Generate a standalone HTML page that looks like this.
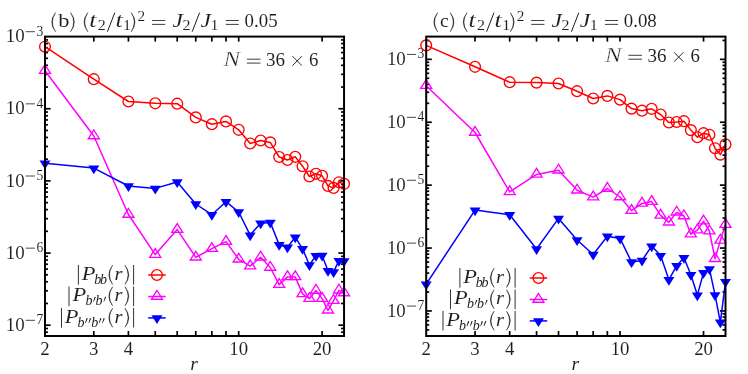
<!DOCTYPE html>
<html><head><meta charset="utf-8"><title>chart</title>
<style>html,body{margin:0;padding:0;background:#fff}svg{display:block;will-change:transform}text{font-family:"Liberation Serif",serif}</style></head>
<body>
<svg width="748" height="374" viewBox="0 0 748 374">
<rect width="748" height="374" fill="#fff"/>
<g font-family="'Liberation Serif', serif" fill="#1c1c1c">
<path d="M55.5 12.63Q47.9 22.18 55.5 31.72Q49.4 22.18 55.5 12.63Z" stroke="#1c1c1c" stroke-width="0.45" stroke-linejoin="round"/><text x="58.2" y="27.1" font-size="18.8" textLength="11.2" lengthAdjust="spacingAndGlyphs" stroke="#fff" stroke-width="0.06">b</text><path d="M70.6 12.63Q78.2 22.18 70.6 31.72Q76.7 22.18 70.6 12.63Z" stroke="#1c1c1c" stroke-width="0.45" stroke-linejoin="round"/><path d="M87.8 12.63Q80.2 22.18 87.8 31.72Q81.7 22.18 87.8 12.63Z" stroke="#1c1c1c" stroke-width="0.45" stroke-linejoin="round"/><text x="89.3" y="27.1" font-size="21.4" font-style="italic" textLength="7.2" lengthAdjust="spacingAndGlyphs" stroke="#fff" stroke-width="0.06">t</text><text x="97.7" y="30.4" font-size="13.6" textLength="8" lengthAdjust="spacingAndGlyphs" stroke="#fff" stroke-width="0.05">2</text><line x1="107.4" y1="31.72" x2="114.8" y2="12.63" stroke="#1c1c1c" stroke-width="1.0"/><text x="115.4" y="27.1" font-size="21.4" font-style="italic" textLength="7.2" lengthAdjust="spacingAndGlyphs" stroke="#fff" stroke-width="0.06">t</text><text x="123.1" y="30.4" font-size="13.6" textLength="8" lengthAdjust="spacingAndGlyphs" stroke="#fff" stroke-width="0.05">1</text><path d="M131.2 12.63Q138.8 22.18 131.2 31.72Q137.3 22.18 131.2 12.63Z" stroke="#1c1c1c" stroke-width="0.45" stroke-linejoin="round"/><text x="137.6" y="20.8" font-size="13.6" textLength="7.6" lengthAdjust="spacingAndGlyphs" stroke="#fff" stroke-width="0.05">2</text><line x1="152" y1="20.5" x2="165.2" y2="20.5" stroke="#1c1c1c" stroke-width="0.85"/><line x1="152" y1="24.4" x2="165.2" y2="24.4" stroke="#1c1c1c" stroke-width="0.85"/><text x="172.4" y="27.1" font-size="19.8" font-style="italic" textLength="10.4" lengthAdjust="spacingAndGlyphs" stroke="#fff" stroke-width="0.06">J</text><text x="182.4" y="30.4" font-size="13.6" textLength="8" lengthAdjust="spacingAndGlyphs" stroke="#fff" stroke-width="0.05">2</text><line x1="192.2" y1="31.72" x2="199.6" y2="12.63" stroke="#1c1c1c" stroke-width="1.0"/><text x="200.5" y="27.1" font-size="19.8" font-style="italic" textLength="10.4" lengthAdjust="spacingAndGlyphs" stroke="#fff" stroke-width="0.06">J</text><text x="210.5" y="30.4" font-size="13.6" textLength="8" lengthAdjust="spacingAndGlyphs" stroke="#fff" stroke-width="0.05">1</text><line x1="225.8" y1="20.5" x2="238.8" y2="20.5" stroke="#1c1c1c" stroke-width="0.85"/><line x1="225.8" y1="24.4" x2="238.8" y2="24.4" stroke="#1c1c1c" stroke-width="0.85"/><text x="244.6" y="27.1" font-size="18.8" textLength="33" lengthAdjust="spacingAndGlyphs" stroke="#fff" stroke-width="0.06">0.05</text>
<path d="M437.6 12.63Q430 22.18 437.6 31.72Q431.5 22.18 437.6 12.63Z" stroke="#1c1c1c" stroke-width="0.45" stroke-linejoin="round"/><text x="440" y="27.1" font-size="18.8" textLength="8.8" lengthAdjust="spacingAndGlyphs" stroke="#fff" stroke-width="0.06">c</text><path d="M450.2 12.63Q457.8 22.18 450.2 31.72Q456.3 22.18 450.2 12.63Z" stroke="#1c1c1c" stroke-width="0.45" stroke-linejoin="round"/><path d="M467 12.63Q459.4 22.18 467 31.72Q460.9 22.18 467 12.63Z" stroke="#1c1c1c" stroke-width="0.45" stroke-linejoin="round"/><text x="468.5" y="27.1" font-size="21.4" font-style="italic" textLength="7.2" lengthAdjust="spacingAndGlyphs" stroke="#fff" stroke-width="0.06">t</text><text x="476.9" y="30.4" font-size="13.6" textLength="8" lengthAdjust="spacingAndGlyphs" stroke="#fff" stroke-width="0.05">2</text><line x1="486.6" y1="31.72" x2="494" y2="12.63" stroke="#1c1c1c" stroke-width="1.0"/><text x="494.6" y="27.1" font-size="21.4" font-style="italic" textLength="7.2" lengthAdjust="spacingAndGlyphs" stroke="#fff" stroke-width="0.06">t</text><text x="502.3" y="30.4" font-size="13.6" textLength="8" lengthAdjust="spacingAndGlyphs" stroke="#fff" stroke-width="0.05">1</text><path d="M510.4 12.63Q518 22.18 510.4 31.72Q516.5 22.18 510.4 12.63Z" stroke="#1c1c1c" stroke-width="0.45" stroke-linejoin="round"/><text x="516.8" y="20.8" font-size="13.6" textLength="7.6" lengthAdjust="spacingAndGlyphs" stroke="#fff" stroke-width="0.05">2</text><line x1="531.2" y1="20.5" x2="544.4" y2="20.5" stroke="#1c1c1c" stroke-width="0.85"/><line x1="531.2" y1="24.4" x2="544.4" y2="24.4" stroke="#1c1c1c" stroke-width="0.85"/><text x="551.6" y="27.1" font-size="19.8" font-style="italic" textLength="10.4" lengthAdjust="spacingAndGlyphs" stroke="#fff" stroke-width="0.06">J</text><text x="561.6" y="30.4" font-size="13.6" textLength="8" lengthAdjust="spacingAndGlyphs" stroke="#fff" stroke-width="0.05">2</text><line x1="571.4" y1="31.72" x2="578.8" y2="12.63" stroke="#1c1c1c" stroke-width="1.0"/><text x="579.7" y="27.1" font-size="19.8" font-style="italic" textLength="10.4" lengthAdjust="spacingAndGlyphs" stroke="#fff" stroke-width="0.06">J</text><text x="589.7" y="30.4" font-size="13.6" textLength="8" lengthAdjust="spacingAndGlyphs" stroke="#fff" stroke-width="0.05">1</text><line x1="605" y1="20.5" x2="618" y2="20.5" stroke="#1c1c1c" stroke-width="0.85"/><line x1="605" y1="24.4" x2="618" y2="24.4" stroke="#1c1c1c" stroke-width="0.85"/><text x="623.8" y="27.1" font-size="18.8" textLength="33" lengthAdjust="spacingAndGlyphs" stroke="#fff" stroke-width="0.06">0.08</text>
<text x="223.6" y="65.8" font-size="20.2" font-style="italic" textLength="16.6" lengthAdjust="spacingAndGlyphs" stroke="#fff" stroke-width="0.3">N</text><line x1="246.9" y1="59.2" x2="260.5" y2="59.2" stroke="#1c1c1c" stroke-width="0.85"/><line x1="246.9" y1="63.1" x2="260.5" y2="63.1" stroke="#1c1c1c" stroke-width="0.85"/><text x="266" y="65.8" font-size="18.8" textLength="19" lengthAdjust="spacingAndGlyphs" stroke="#fff" stroke-width="0.06">36</text><line x1="292.5" y1="56.2" x2="301.9" y2="65.6" stroke="#1c1c1c" stroke-width="0.95"/><line x1="292.5" y1="65.6" x2="301.9" y2="56.2" stroke="#1c1c1c" stroke-width="0.95"/><text x="309" y="65.8" font-size="18.8" stroke="#fff" stroke-width="0.06">6</text>
<text x="605.1" y="61.9" font-size="20.2" font-style="italic" textLength="16.6" lengthAdjust="spacingAndGlyphs" stroke="#fff" stroke-width="0.3">N</text><line x1="628.4" y1="55.3" x2="642" y2="55.3" stroke="#1c1c1c" stroke-width="0.85"/><line x1="628.4" y1="59.2" x2="642" y2="59.2" stroke="#1c1c1c" stroke-width="0.85"/><text x="647.5" y="61.9" font-size="18.8" textLength="19" lengthAdjust="spacingAndGlyphs" stroke="#fff" stroke-width="0.06">36</text><line x1="674" y1="52.3" x2="683.4" y2="61.7" stroke="#1c1c1c" stroke-width="0.95"/><line x1="674" y1="61.7" x2="683.4" y2="52.3" stroke="#1c1c1c" stroke-width="0.95"/><text x="690.5" y="61.9" font-size="18.8" stroke="#fff" stroke-width="0.06">6</text>
<text x="5.7" y="42.2" font-size="18.8" textLength="18.9" lengthAdjust="spacingAndGlyphs" stroke="#fff" stroke-width="0.06">10</text><line x1="25.7" y1="31.7" x2="34.9" y2="31.7" stroke="#1c1c1c" stroke-width="0.8"/><text x="36.4" y="35.5" font-size="13.6" stroke="#fff" stroke-width="0.05">3</text>
<text x="386.9" y="64.95" font-size="18.8" textLength="18.9" lengthAdjust="spacingAndGlyphs" stroke="#fff" stroke-width="0.06">10</text><line x1="406.9" y1="54.45" x2="416.1" y2="54.45" stroke="#1c1c1c" stroke-width="0.8"/><text x="417.6" y="58.25" font-size="13.6" stroke="#fff" stroke-width="0.05">3</text>
<text x="5.7" y="114.35" font-size="18.8" textLength="18.9" lengthAdjust="spacingAndGlyphs" stroke="#fff" stroke-width="0.06">10</text><line x1="25.7" y1="103.85" x2="34.9" y2="103.85" stroke="#1c1c1c" stroke-width="0.8"/><text x="36.4" y="107.65" font-size="13.6" stroke="#fff" stroke-width="0.05">4</text>
<text x="386.9" y="127.85" font-size="18.8" textLength="18.9" lengthAdjust="spacingAndGlyphs" stroke="#fff" stroke-width="0.06">10</text><line x1="406.9" y1="117.35" x2="416.1" y2="117.35" stroke="#1c1c1c" stroke-width="0.8"/><text x="417.6" y="121.15" font-size="13.6" stroke="#fff" stroke-width="0.05">4</text>
<text x="5.7" y="186.5" font-size="18.8" textLength="18.9" lengthAdjust="spacingAndGlyphs" stroke="#fff" stroke-width="0.06">10</text><line x1="25.7" y1="176" x2="34.9" y2="176" stroke="#1c1c1c" stroke-width="0.8"/><text x="36.4" y="179.8" font-size="13.6" stroke="#fff" stroke-width="0.05">5</text>
<text x="386.9" y="190.75" font-size="18.8" textLength="18.9" lengthAdjust="spacingAndGlyphs" stroke="#fff" stroke-width="0.06">10</text><line x1="406.9" y1="180.25" x2="416.1" y2="180.25" stroke="#1c1c1c" stroke-width="0.8"/><text x="417.6" y="184.05" font-size="13.6" stroke="#fff" stroke-width="0.05">5</text>
<text x="5.7" y="258.65" font-size="18.8" textLength="18.9" lengthAdjust="spacingAndGlyphs" stroke="#fff" stroke-width="0.06">10</text><line x1="25.7" y1="248.15" x2="34.9" y2="248.15" stroke="#1c1c1c" stroke-width="0.8"/><text x="36.4" y="251.95" font-size="13.6" stroke="#fff" stroke-width="0.05">6</text>
<text x="386.9" y="253.65" font-size="18.8" textLength="18.9" lengthAdjust="spacingAndGlyphs" stroke="#fff" stroke-width="0.06">10</text><line x1="406.9" y1="243.15" x2="416.1" y2="243.15" stroke="#1c1c1c" stroke-width="0.8"/><text x="417.6" y="246.95" font-size="13.6" stroke="#fff" stroke-width="0.05">6</text>
<text x="5.7" y="330.8" font-size="18.8" textLength="18.9" lengthAdjust="spacingAndGlyphs" stroke="#fff" stroke-width="0.06">10</text><line x1="25.7" y1="320.3" x2="34.9" y2="320.3" stroke="#1c1c1c" stroke-width="0.8"/><text x="36.4" y="324.1" font-size="13.6" stroke="#fff" stroke-width="0.05">7</text>
<text x="386.9" y="316.55" font-size="18.8" textLength="18.9" lengthAdjust="spacingAndGlyphs" stroke="#fff" stroke-width="0.06">10</text><line x1="406.9" y1="306.05" x2="416.1" y2="306.05" stroke="#1c1c1c" stroke-width="0.8"/><text x="417.6" y="309.85" font-size="13.6" stroke="#fff" stroke-width="0.05">7</text>
<text x="45" y="355" font-size="18.8" text-anchor="middle" stroke="#fff" stroke-width="0.06">2</text><text x="93.8" y="355" font-size="18.8" text-anchor="middle" stroke="#fff" stroke-width="0.06">3</text><text x="128.42" y="355" font-size="18.8" text-anchor="middle" stroke="#fff" stroke-width="0.06">4</text><text x="238.69" y="355" font-size="18.8" text-anchor="middle" stroke="#fff" stroke-width="0.06">10</text><text x="322.11" y="355" font-size="18.8" text-anchor="middle" stroke="#fff" stroke-width="0.06">20</text><text x="190.22" y="369.8" font-size="19.8" font-style="italic" stroke="#fff" stroke-width="0.06">r</text>
<text x="426.2" y="355" font-size="18.8" text-anchor="middle" stroke="#fff" stroke-width="0.06">2</text><text x="475.04" y="355" font-size="18.8" text-anchor="middle" stroke="#fff" stroke-width="0.06">3</text><text x="509.69" y="355" font-size="18.8" text-anchor="middle" stroke="#fff" stroke-width="0.06">4</text><text x="620.05" y="355" font-size="18.8" text-anchor="middle" stroke="#fff" stroke-width="0.06">10</text><text x="703.54" y="355" font-size="18.8" text-anchor="middle" stroke="#fff" stroke-width="0.06">20</text><text x="571.55" y="369.8" font-size="19.8" font-style="italic" stroke="#fff" stroke-width="0.06">r</text>
<line x1="133.6" y1="264.98" x2="133.6" y2="284.68" stroke="#1c1c1c" stroke-width="0.9"/>
<path d="M125 265.28Q132.6 274.83 125 284.38Q131.1 274.83 125 265.28Z" stroke="#1c1c1c" stroke-width="0.45" stroke-linejoin="round"/>
<text x="114.6" y="279.75" font-size="19.8" font-style="italic" textLength="8" lengthAdjust="spacingAndGlyphs" stroke="#fff" stroke-width="0.06">r</text>
<path d="M112.6 265.28Q105 274.83 112.6 284.38Q106.5 274.83 112.6 265.28Z" stroke="#1c1c1c" stroke-width="0.45" stroke-linejoin="round"/>
<text x="94.3" y="283.65" font-size="15.1" font-style="italic" textLength="7" lengthAdjust="spacingAndGlyphs" stroke="#fff" stroke-width="0.0">b</text>
<text x="100.1" y="283.65" font-size="15.1" font-style="italic" textLength="7" lengthAdjust="spacingAndGlyphs" stroke="#fff" stroke-width="0.0">b</text>
<text x="81.8" y="279.75" font-size="19.8" font-style="italic" textLength="13.7" lengthAdjust="spacingAndGlyphs" stroke="#fff" stroke-width="0.06">P</text>
<line x1="78.4" y1="264.98" x2="78.4" y2="284.68" stroke="#1c1c1c" stroke-width="0.9"/>
<line x1="148.2" y1="275" x2="165.7" y2="275" stroke="#ff0000" stroke-width="1.5"/>
<circle cx="156.95" cy="275" r="5.4" fill="none" stroke="#ff0000" stroke-width="1.35"/>
<line x1="133.6" y1="286.48" x2="133.6" y2="306.18" stroke="#1c1c1c" stroke-width="0.9"/>
<path d="M125 286.78Q132.6 296.33 125 305.88Q131.1 296.33 125 286.78Z" stroke="#1c1c1c" stroke-width="0.45" stroke-linejoin="round"/>
<text x="114.6" y="301.25" font-size="19.8" font-style="italic" textLength="8" lengthAdjust="spacingAndGlyphs" stroke="#fff" stroke-width="0.06">r</text>
<path d="M112.6 286.78Q105 296.33 112.6 305.88Q106.5 296.33 112.6 286.78Z" stroke="#1c1c1c" stroke-width="0.45" stroke-linejoin="round"/>
<text x="85.6" y="305.15" font-size="15.1" font-style="italic" textLength="7" lengthAdjust="spacingAndGlyphs" stroke="#fff" stroke-width="0.0">b</text>
<path d="M94.7 296.65L95.9 297.05L93.7 301.75L93.2 301.55Z" stroke="none"/>
<text x="95.5" y="305.15" font-size="15.1" font-style="italic" textLength="7" lengthAdjust="spacingAndGlyphs" stroke="#fff" stroke-width="0.0">b</text>
<path d="M105 296.65L106.2 297.05L104 301.75L103.5 301.55Z" stroke="none"/>
<text x="72.4" y="301.25" font-size="19.8" font-style="italic" textLength="13.7" lengthAdjust="spacingAndGlyphs" stroke="#fff" stroke-width="0.06">P</text>
<line x1="69" y1="286.48" x2="69" y2="306.18" stroke="#1c1c1c" stroke-width="0.9"/>
<line x1="148.2" y1="296.5" x2="165.7" y2="296.5" stroke="#ff00ff" stroke-width="1.5"/>
<path d="M156.95 290.45L151.45 299.2L162.45 299.2Z" fill="none" stroke="#ff00ff" stroke-width="1.35" stroke-linejoin="miter"/>
<line x1="133.6" y1="307.88" x2="133.6" y2="327.57" stroke="#1c1c1c" stroke-width="0.9"/>
<path d="M125 308.18Q132.6 317.73 125 327.27Q131.1 317.73 125 308.18Z" stroke="#1c1c1c" stroke-width="0.45" stroke-linejoin="round"/>
<text x="114.6" y="322.65" font-size="19.8" font-style="italic" textLength="8" lengthAdjust="spacingAndGlyphs" stroke="#fff" stroke-width="0.06">r</text>
<path d="M112.6 308.18Q105 317.73 112.6 327.27Q106.5 317.73 112.6 308.18Z" stroke="#1c1c1c" stroke-width="0.45" stroke-linejoin="round"/>
<text x="77.4" y="326.55" font-size="15.1" font-style="italic" textLength="7" lengthAdjust="spacingAndGlyphs" stroke="#fff" stroke-width="0.0">b</text>
<path d="M86.6 318.05L87.8 318.45L85.6 323.15L85.1 322.95Z" stroke="none"/>
<path d="M90 318.05L91.2 318.45L89 323.15L88.5 322.95Z" stroke="none"/>
<text x="91.3" y="326.55" font-size="15.1" font-style="italic" textLength="7" lengthAdjust="spacingAndGlyphs" stroke="#fff" stroke-width="0.0">b</text>
<path d="M100.3 318.05L101.5 318.45L99.3 323.15L98.8 322.95Z" stroke="none"/>
<path d="M103.6 318.05L104.8 318.45L102.6 323.15L102.1 322.95Z" stroke="none"/>
<text x="64.8" y="322.65" font-size="19.8" font-style="italic" textLength="13.7" lengthAdjust="spacingAndGlyphs" stroke="#fff" stroke-width="0.06">P</text>
<line x1="61.5" y1="307.88" x2="61.5" y2="327.57" stroke="#1c1c1c" stroke-width="0.9"/>
<line x1="148.2" y1="317.9" x2="165.7" y2="317.9" stroke="#0000ff" stroke-width="1.5"/>
<path d="M156.95 323.95L151.45 315.2L162.45 315.2Z" fill="#0000ff" stroke="none"/>
<line x1="515.1" y1="267.98" x2="515.1" y2="287.68" stroke="#1c1c1c" stroke-width="0.9"/>
<path d="M506.5 268.28Q514.1 277.83 506.5 287.38Q512.6 277.83 506.5 268.28Z" stroke="#1c1c1c" stroke-width="0.45" stroke-linejoin="round"/>
<text x="496.1" y="282.75" font-size="19.8" font-style="italic" textLength="8" lengthAdjust="spacingAndGlyphs" stroke="#fff" stroke-width="0.06">r</text>
<path d="M494.1 268.28Q486.5 277.83 494.1 287.38Q488 277.83 494.1 268.28Z" stroke="#1c1c1c" stroke-width="0.45" stroke-linejoin="round"/>
<text x="475.8" y="286.65" font-size="15.1" font-style="italic" textLength="7" lengthAdjust="spacingAndGlyphs" stroke="#fff" stroke-width="0.0">b</text>
<text x="481.6" y="286.65" font-size="15.1" font-style="italic" textLength="7" lengthAdjust="spacingAndGlyphs" stroke="#fff" stroke-width="0.0">b</text>
<text x="463.3" y="282.75" font-size="19.8" font-style="italic" textLength="13.7" lengthAdjust="spacingAndGlyphs" stroke="#fff" stroke-width="0.06">P</text>
<line x1="459.9" y1="267.98" x2="459.9" y2="287.68" stroke="#1c1c1c" stroke-width="0.9"/>
<line x1="529.7" y1="278" x2="547.2" y2="278" stroke="#ff0000" stroke-width="1.5"/>
<circle cx="538.45" cy="278" r="5.4" fill="none" stroke="#ff0000" stroke-width="1.35"/>
<line x1="515.1" y1="289.48" x2="515.1" y2="309.18" stroke="#1c1c1c" stroke-width="0.9"/>
<path d="M506.5 289.78Q514.1 299.33 506.5 308.88Q512.6 299.33 506.5 289.78Z" stroke="#1c1c1c" stroke-width="0.45" stroke-linejoin="round"/>
<text x="496.1" y="304.25" font-size="19.8" font-style="italic" textLength="8" lengthAdjust="spacingAndGlyphs" stroke="#fff" stroke-width="0.06">r</text>
<path d="M494.1 289.78Q486.5 299.33 494.1 308.88Q488 299.33 494.1 289.78Z" stroke="#1c1c1c" stroke-width="0.45" stroke-linejoin="round"/>
<text x="467.1" y="308.15" font-size="15.1" font-style="italic" textLength="7" lengthAdjust="spacingAndGlyphs" stroke="#fff" stroke-width="0.0">b</text>
<path d="M476.2 299.65L477.4 300.05L475.2 304.75L474.7 304.55Z" stroke="none"/>
<text x="477" y="308.15" font-size="15.1" font-style="italic" textLength="7" lengthAdjust="spacingAndGlyphs" stroke="#fff" stroke-width="0.0">b</text>
<path d="M486.5 299.65L487.7 300.05L485.5 304.75L485 304.55Z" stroke="none"/>
<text x="453.9" y="304.25" font-size="19.8" font-style="italic" textLength="13.7" lengthAdjust="spacingAndGlyphs" stroke="#fff" stroke-width="0.06">P</text>
<line x1="450.5" y1="289.48" x2="450.5" y2="309.18" stroke="#1c1c1c" stroke-width="0.9"/>
<line x1="529.7" y1="299.5" x2="547.2" y2="299.5" stroke="#ff00ff" stroke-width="1.5"/>
<path d="M538.45 293.45L532.95 302.2L543.95 302.2Z" fill="none" stroke="#ff00ff" stroke-width="1.35" stroke-linejoin="miter"/>
<line x1="515.1" y1="310.88" x2="515.1" y2="330.57" stroke="#1c1c1c" stroke-width="0.9"/>
<path d="M506.5 311.18Q514.1 320.73 506.5 330.27Q512.6 320.73 506.5 311.18Z" stroke="#1c1c1c" stroke-width="0.45" stroke-linejoin="round"/>
<text x="496.1" y="325.65" font-size="19.8" font-style="italic" textLength="8" lengthAdjust="spacingAndGlyphs" stroke="#fff" stroke-width="0.06">r</text>
<path d="M494.1 311.18Q486.5 320.73 494.1 330.27Q488 320.73 494.1 311.18Z" stroke="#1c1c1c" stroke-width="0.45" stroke-linejoin="round"/>
<text x="458.9" y="329.55" font-size="15.1" font-style="italic" textLength="7" lengthAdjust="spacingAndGlyphs" stroke="#fff" stroke-width="0.0">b</text>
<path d="M468.1 321.05L469.3 321.45L467.1 326.15L466.6 325.95Z" stroke="none"/>
<path d="M471.5 321.05L472.7 321.45L470.5 326.15L470 325.95Z" stroke="none"/>
<text x="472.8" y="329.55" font-size="15.1" font-style="italic" textLength="7" lengthAdjust="spacingAndGlyphs" stroke="#fff" stroke-width="0.0">b</text>
<path d="M481.8 321.05L483 321.45L480.8 326.15L480.3 325.95Z" stroke="none"/>
<path d="M485.1 321.05L486.3 321.45L484.1 326.15L483.6 325.95Z" stroke="none"/>
<text x="446.3" y="325.65" font-size="19.8" font-style="italic" textLength="13.7" lengthAdjust="spacingAndGlyphs" stroke="#fff" stroke-width="0.06">P</text>
<line x1="443" y1="310.88" x2="443" y2="330.57" stroke="#1c1c1c" stroke-width="0.9"/>
<line x1="529.7" y1="320.9" x2="547.2" y2="320.9" stroke="#0000ff" stroke-width="1.5"/>
<path d="M538.45 326.95L532.95 318.2L543.95 318.2Z" fill="#0000ff" stroke="none"/>
</g>
<line x1="93.8" y1="336" x2="93.8" y2="331" stroke="#000" stroke-width="1.7"/>
<line x1="93.8" y1="36.6" x2="93.8" y2="41.6" stroke="#000" stroke-width="1.7"/>
<line x1="128.42" y1="336" x2="128.42" y2="331" stroke="#000" stroke-width="1.7"/>
<line x1="128.42" y1="36.6" x2="128.42" y2="41.6" stroke="#000" stroke-width="1.7"/>
<line x1="155.27" y1="336" x2="155.27" y2="331" stroke="#000" stroke-width="1.7"/>
<line x1="155.27" y1="36.6" x2="155.27" y2="41.6" stroke="#000" stroke-width="1.7"/>
<line x1="177.21" y1="336" x2="177.21" y2="331" stroke="#000" stroke-width="1.7"/>
<line x1="177.21" y1="36.6" x2="177.21" y2="41.6" stroke="#000" stroke-width="1.7"/>
<line x1="195.77" y1="336" x2="195.77" y2="331" stroke="#000" stroke-width="1.7"/>
<line x1="195.77" y1="36.6" x2="195.77" y2="41.6" stroke="#000" stroke-width="1.7"/>
<line x1="211.84" y1="336" x2="211.84" y2="331" stroke="#000" stroke-width="1.7"/>
<line x1="211.84" y1="36.6" x2="211.84" y2="41.6" stroke="#000" stroke-width="1.7"/>
<line x1="226.01" y1="336" x2="226.01" y2="331" stroke="#000" stroke-width="1.7"/>
<line x1="226.01" y1="36.6" x2="226.01" y2="41.6" stroke="#000" stroke-width="1.7"/>
<line x1="238.69" y1="336" x2="238.69" y2="331" stroke="#000" stroke-width="1.7"/>
<line x1="238.69" y1="36.6" x2="238.69" y2="41.6" stroke="#000" stroke-width="1.7"/>
<line x1="322.11" y1="336" x2="322.11" y2="331" stroke="#000" stroke-width="1.7"/>
<line x1="322.11" y1="36.6" x2="322.11" y2="41.6" stroke="#000" stroke-width="1.7"/>
<line x1="45" y1="332.19" x2="48" y2="332.19" stroke="#000" stroke-width="1.7"/>
<line x1="344.05" y1="332.19" x2="341.05" y2="332.19" stroke="#000" stroke-width="1.7"/>
<line x1="45" y1="328.5" x2="48" y2="328.5" stroke="#000" stroke-width="1.7"/>
<line x1="344.05" y1="328.5" x2="341.05" y2="328.5" stroke="#000" stroke-width="1.7"/>
<line x1="45" y1="325.2" x2="50.6" y2="325.2" stroke="#000" stroke-width="1.7"/>
<line x1="344.05" y1="325.2" x2="338.45" y2="325.2" stroke="#000" stroke-width="1.7"/>
<line x1="45" y1="303.48" x2="48" y2="303.48" stroke="#000" stroke-width="1.7"/>
<line x1="344.05" y1="303.48" x2="341.05" y2="303.48" stroke="#000" stroke-width="1.7"/>
<line x1="45" y1="290.78" x2="48" y2="290.78" stroke="#000" stroke-width="1.7"/>
<line x1="344.05" y1="290.78" x2="341.05" y2="290.78" stroke="#000" stroke-width="1.7"/>
<line x1="45" y1="281.76" x2="48" y2="281.76" stroke="#000" stroke-width="1.7"/>
<line x1="344.05" y1="281.76" x2="341.05" y2="281.76" stroke="#000" stroke-width="1.7"/>
<line x1="45" y1="274.77" x2="48" y2="274.77" stroke="#000" stroke-width="1.7"/>
<line x1="344.05" y1="274.77" x2="341.05" y2="274.77" stroke="#000" stroke-width="1.7"/>
<line x1="45" y1="269.06" x2="48" y2="269.06" stroke="#000" stroke-width="1.7"/>
<line x1="344.05" y1="269.06" x2="341.05" y2="269.06" stroke="#000" stroke-width="1.7"/>
<line x1="45" y1="264.23" x2="48" y2="264.23" stroke="#000" stroke-width="1.7"/>
<line x1="344.05" y1="264.23" x2="341.05" y2="264.23" stroke="#000" stroke-width="1.7"/>
<line x1="45" y1="260.04" x2="48" y2="260.04" stroke="#000" stroke-width="1.7"/>
<line x1="344.05" y1="260.04" x2="341.05" y2="260.04" stroke="#000" stroke-width="1.7"/>
<line x1="45" y1="256.35" x2="48" y2="256.35" stroke="#000" stroke-width="1.7"/>
<line x1="344.05" y1="256.35" x2="341.05" y2="256.35" stroke="#000" stroke-width="1.7"/>
<line x1="45" y1="253.05" x2="50.6" y2="253.05" stroke="#000" stroke-width="1.7"/>
<line x1="344.05" y1="253.05" x2="338.45" y2="253.05" stroke="#000" stroke-width="1.7"/>
<line x1="45" y1="231.33" x2="48" y2="231.33" stroke="#000" stroke-width="1.7"/>
<line x1="344.05" y1="231.33" x2="341.05" y2="231.33" stroke="#000" stroke-width="1.7"/>
<line x1="45" y1="218.63" x2="48" y2="218.63" stroke="#000" stroke-width="1.7"/>
<line x1="344.05" y1="218.63" x2="341.05" y2="218.63" stroke="#000" stroke-width="1.7"/>
<line x1="45" y1="209.61" x2="48" y2="209.61" stroke="#000" stroke-width="1.7"/>
<line x1="344.05" y1="209.61" x2="341.05" y2="209.61" stroke="#000" stroke-width="1.7"/>
<line x1="45" y1="202.62" x2="48" y2="202.62" stroke="#000" stroke-width="1.7"/>
<line x1="344.05" y1="202.62" x2="341.05" y2="202.62" stroke="#000" stroke-width="1.7"/>
<line x1="45" y1="196.91" x2="48" y2="196.91" stroke="#000" stroke-width="1.7"/>
<line x1="344.05" y1="196.91" x2="341.05" y2="196.91" stroke="#000" stroke-width="1.7"/>
<line x1="45" y1="192.08" x2="48" y2="192.08" stroke="#000" stroke-width="1.7"/>
<line x1="344.05" y1="192.08" x2="341.05" y2="192.08" stroke="#000" stroke-width="1.7"/>
<line x1="45" y1="187.89" x2="48" y2="187.89" stroke="#000" stroke-width="1.7"/>
<line x1="344.05" y1="187.89" x2="341.05" y2="187.89" stroke="#000" stroke-width="1.7"/>
<line x1="45" y1="184.2" x2="48" y2="184.2" stroke="#000" stroke-width="1.7"/>
<line x1="344.05" y1="184.2" x2="341.05" y2="184.2" stroke="#000" stroke-width="1.7"/>
<line x1="45" y1="180.9" x2="50.6" y2="180.9" stroke="#000" stroke-width="1.7"/>
<line x1="344.05" y1="180.9" x2="338.45" y2="180.9" stroke="#000" stroke-width="1.7"/>
<line x1="45" y1="159.18" x2="48" y2="159.18" stroke="#000" stroke-width="1.7"/>
<line x1="344.05" y1="159.18" x2="341.05" y2="159.18" stroke="#000" stroke-width="1.7"/>
<line x1="45" y1="146.48" x2="48" y2="146.48" stroke="#000" stroke-width="1.7"/>
<line x1="344.05" y1="146.48" x2="341.05" y2="146.48" stroke="#000" stroke-width="1.7"/>
<line x1="45" y1="137.46" x2="48" y2="137.46" stroke="#000" stroke-width="1.7"/>
<line x1="344.05" y1="137.46" x2="341.05" y2="137.46" stroke="#000" stroke-width="1.7"/>
<line x1="45" y1="130.47" x2="48" y2="130.47" stroke="#000" stroke-width="1.7"/>
<line x1="344.05" y1="130.47" x2="341.05" y2="130.47" stroke="#000" stroke-width="1.7"/>
<line x1="45" y1="124.76" x2="48" y2="124.76" stroke="#000" stroke-width="1.7"/>
<line x1="344.05" y1="124.76" x2="341.05" y2="124.76" stroke="#000" stroke-width="1.7"/>
<line x1="45" y1="119.93" x2="48" y2="119.93" stroke="#000" stroke-width="1.7"/>
<line x1="344.05" y1="119.93" x2="341.05" y2="119.93" stroke="#000" stroke-width="1.7"/>
<line x1="45" y1="115.74" x2="48" y2="115.74" stroke="#000" stroke-width="1.7"/>
<line x1="344.05" y1="115.74" x2="341.05" y2="115.74" stroke="#000" stroke-width="1.7"/>
<line x1="45" y1="112.05" x2="48" y2="112.05" stroke="#000" stroke-width="1.7"/>
<line x1="344.05" y1="112.05" x2="341.05" y2="112.05" stroke="#000" stroke-width="1.7"/>
<line x1="45" y1="108.75" x2="50.6" y2="108.75" stroke="#000" stroke-width="1.7"/>
<line x1="344.05" y1="108.75" x2="338.45" y2="108.75" stroke="#000" stroke-width="1.7"/>
<line x1="45" y1="87.03" x2="48" y2="87.03" stroke="#000" stroke-width="1.7"/>
<line x1="344.05" y1="87.03" x2="341.05" y2="87.03" stroke="#000" stroke-width="1.7"/>
<line x1="45" y1="74.33" x2="48" y2="74.33" stroke="#000" stroke-width="1.7"/>
<line x1="344.05" y1="74.33" x2="341.05" y2="74.33" stroke="#000" stroke-width="1.7"/>
<line x1="45" y1="65.31" x2="48" y2="65.31" stroke="#000" stroke-width="1.7"/>
<line x1="344.05" y1="65.31" x2="341.05" y2="65.31" stroke="#000" stroke-width="1.7"/>
<line x1="45" y1="58.32" x2="48" y2="58.32" stroke="#000" stroke-width="1.7"/>
<line x1="344.05" y1="58.32" x2="341.05" y2="58.32" stroke="#000" stroke-width="1.7"/>
<line x1="45" y1="52.61" x2="48" y2="52.61" stroke="#000" stroke-width="1.7"/>
<line x1="344.05" y1="52.61" x2="341.05" y2="52.61" stroke="#000" stroke-width="1.7"/>
<line x1="45" y1="47.78" x2="48" y2="47.78" stroke="#000" stroke-width="1.7"/>
<line x1="344.05" y1="47.78" x2="341.05" y2="47.78" stroke="#000" stroke-width="1.7"/>
<line x1="45" y1="43.59" x2="48" y2="43.59" stroke="#000" stroke-width="1.7"/>
<line x1="344.05" y1="43.59" x2="341.05" y2="43.59" stroke="#000" stroke-width="1.7"/>
<line x1="45" y1="39.9" x2="48" y2="39.9" stroke="#000" stroke-width="1.7"/>
<line x1="344.05" y1="39.9" x2="341.05" y2="39.9" stroke="#000" stroke-width="1.7"/>
<line x1="475.04" y1="336" x2="475.04" y2="331" stroke="#000" stroke-width="1.7"/>
<line x1="475.04" y1="36.6" x2="475.04" y2="41.6" stroke="#000" stroke-width="1.7"/>
<line x1="509.69" y1="336" x2="509.69" y2="331" stroke="#000" stroke-width="1.7"/>
<line x1="509.69" y1="36.6" x2="509.69" y2="41.6" stroke="#000" stroke-width="1.7"/>
<line x1="536.56" y1="336" x2="536.56" y2="331" stroke="#000" stroke-width="1.7"/>
<line x1="536.56" y1="36.6" x2="536.56" y2="41.6" stroke="#000" stroke-width="1.7"/>
<line x1="558.52" y1="336" x2="558.52" y2="331" stroke="#000" stroke-width="1.7"/>
<line x1="558.52" y1="36.6" x2="558.52" y2="41.6" stroke="#000" stroke-width="1.7"/>
<line x1="577.09" y1="336" x2="577.09" y2="331" stroke="#000" stroke-width="1.7"/>
<line x1="577.09" y1="36.6" x2="577.09" y2="41.6" stroke="#000" stroke-width="1.7"/>
<line x1="593.18" y1="336" x2="593.18" y2="331" stroke="#000" stroke-width="1.7"/>
<line x1="593.18" y1="36.6" x2="593.18" y2="41.6" stroke="#000" stroke-width="1.7"/>
<line x1="607.36" y1="336" x2="607.36" y2="331" stroke="#000" stroke-width="1.7"/>
<line x1="607.36" y1="36.6" x2="607.36" y2="41.6" stroke="#000" stroke-width="1.7"/>
<line x1="620.05" y1="336" x2="620.05" y2="331" stroke="#000" stroke-width="1.7"/>
<line x1="620.05" y1="36.6" x2="620.05" y2="41.6" stroke="#000" stroke-width="1.7"/>
<line x1="703.54" y1="336" x2="703.54" y2="331" stroke="#000" stroke-width="1.7"/>
<line x1="703.54" y1="36.6" x2="703.54" y2="41.6" stroke="#000" stroke-width="1.7"/>
<line x1="426.2" y1="329.88" x2="429.2" y2="329.88" stroke="#000" stroke-width="1.7"/>
<line x1="725.5" y1="329.88" x2="722.5" y2="329.88" stroke="#000" stroke-width="1.7"/>
<line x1="426.2" y1="324.9" x2="429.2" y2="324.9" stroke="#000" stroke-width="1.7"/>
<line x1="725.5" y1="324.9" x2="722.5" y2="324.9" stroke="#000" stroke-width="1.7"/>
<line x1="426.2" y1="320.69" x2="429.2" y2="320.69" stroke="#000" stroke-width="1.7"/>
<line x1="725.5" y1="320.69" x2="722.5" y2="320.69" stroke="#000" stroke-width="1.7"/>
<line x1="426.2" y1="317.05" x2="429.2" y2="317.05" stroke="#000" stroke-width="1.7"/>
<line x1="725.5" y1="317.05" x2="722.5" y2="317.05" stroke="#000" stroke-width="1.7"/>
<line x1="426.2" y1="313.83" x2="429.2" y2="313.83" stroke="#000" stroke-width="1.7"/>
<line x1="725.5" y1="313.83" x2="722.5" y2="313.83" stroke="#000" stroke-width="1.7"/>
<line x1="426.2" y1="310.95" x2="431.8" y2="310.95" stroke="#000" stroke-width="1.7"/>
<line x1="725.5" y1="310.95" x2="719.9" y2="310.95" stroke="#000" stroke-width="1.7"/>
<line x1="426.2" y1="292.02" x2="429.2" y2="292.02" stroke="#000" stroke-width="1.7"/>
<line x1="725.5" y1="292.02" x2="722.5" y2="292.02" stroke="#000" stroke-width="1.7"/>
<line x1="426.2" y1="280.94" x2="429.2" y2="280.94" stroke="#000" stroke-width="1.7"/>
<line x1="725.5" y1="280.94" x2="722.5" y2="280.94" stroke="#000" stroke-width="1.7"/>
<line x1="426.2" y1="273.08" x2="429.2" y2="273.08" stroke="#000" stroke-width="1.7"/>
<line x1="725.5" y1="273.08" x2="722.5" y2="273.08" stroke="#000" stroke-width="1.7"/>
<line x1="426.2" y1="266.98" x2="429.2" y2="266.98" stroke="#000" stroke-width="1.7"/>
<line x1="725.5" y1="266.98" x2="722.5" y2="266.98" stroke="#000" stroke-width="1.7"/>
<line x1="426.2" y1="262" x2="429.2" y2="262" stroke="#000" stroke-width="1.7"/>
<line x1="725.5" y1="262" x2="722.5" y2="262" stroke="#000" stroke-width="1.7"/>
<line x1="426.2" y1="257.79" x2="429.2" y2="257.79" stroke="#000" stroke-width="1.7"/>
<line x1="725.5" y1="257.79" x2="722.5" y2="257.79" stroke="#000" stroke-width="1.7"/>
<line x1="426.2" y1="254.15" x2="429.2" y2="254.15" stroke="#000" stroke-width="1.7"/>
<line x1="725.5" y1="254.15" x2="722.5" y2="254.15" stroke="#000" stroke-width="1.7"/>
<line x1="426.2" y1="250.93" x2="429.2" y2="250.93" stroke="#000" stroke-width="1.7"/>
<line x1="725.5" y1="250.93" x2="722.5" y2="250.93" stroke="#000" stroke-width="1.7"/>
<line x1="426.2" y1="248.05" x2="431.8" y2="248.05" stroke="#000" stroke-width="1.7"/>
<line x1="725.5" y1="248.05" x2="719.9" y2="248.05" stroke="#000" stroke-width="1.7"/>
<line x1="426.2" y1="229.12" x2="429.2" y2="229.12" stroke="#000" stroke-width="1.7"/>
<line x1="725.5" y1="229.12" x2="722.5" y2="229.12" stroke="#000" stroke-width="1.7"/>
<line x1="426.2" y1="218.04" x2="429.2" y2="218.04" stroke="#000" stroke-width="1.7"/>
<line x1="725.5" y1="218.04" x2="722.5" y2="218.04" stroke="#000" stroke-width="1.7"/>
<line x1="426.2" y1="210.18" x2="429.2" y2="210.18" stroke="#000" stroke-width="1.7"/>
<line x1="725.5" y1="210.18" x2="722.5" y2="210.18" stroke="#000" stroke-width="1.7"/>
<line x1="426.2" y1="204.08" x2="429.2" y2="204.08" stroke="#000" stroke-width="1.7"/>
<line x1="725.5" y1="204.08" x2="722.5" y2="204.08" stroke="#000" stroke-width="1.7"/>
<line x1="426.2" y1="199.1" x2="429.2" y2="199.1" stroke="#000" stroke-width="1.7"/>
<line x1="725.5" y1="199.1" x2="722.5" y2="199.1" stroke="#000" stroke-width="1.7"/>
<line x1="426.2" y1="194.89" x2="429.2" y2="194.89" stroke="#000" stroke-width="1.7"/>
<line x1="725.5" y1="194.89" x2="722.5" y2="194.89" stroke="#000" stroke-width="1.7"/>
<line x1="426.2" y1="191.25" x2="429.2" y2="191.25" stroke="#000" stroke-width="1.7"/>
<line x1="725.5" y1="191.25" x2="722.5" y2="191.25" stroke="#000" stroke-width="1.7"/>
<line x1="426.2" y1="188.03" x2="429.2" y2="188.03" stroke="#000" stroke-width="1.7"/>
<line x1="725.5" y1="188.03" x2="722.5" y2="188.03" stroke="#000" stroke-width="1.7"/>
<line x1="426.2" y1="185.15" x2="431.8" y2="185.15" stroke="#000" stroke-width="1.7"/>
<line x1="725.5" y1="185.15" x2="719.9" y2="185.15" stroke="#000" stroke-width="1.7"/>
<line x1="426.2" y1="166.22" x2="429.2" y2="166.22" stroke="#000" stroke-width="1.7"/>
<line x1="725.5" y1="166.22" x2="722.5" y2="166.22" stroke="#000" stroke-width="1.7"/>
<line x1="426.2" y1="155.14" x2="429.2" y2="155.14" stroke="#000" stroke-width="1.7"/>
<line x1="725.5" y1="155.14" x2="722.5" y2="155.14" stroke="#000" stroke-width="1.7"/>
<line x1="426.2" y1="147.28" x2="429.2" y2="147.28" stroke="#000" stroke-width="1.7"/>
<line x1="725.5" y1="147.28" x2="722.5" y2="147.28" stroke="#000" stroke-width="1.7"/>
<line x1="426.2" y1="141.18" x2="429.2" y2="141.18" stroke="#000" stroke-width="1.7"/>
<line x1="725.5" y1="141.18" x2="722.5" y2="141.18" stroke="#000" stroke-width="1.7"/>
<line x1="426.2" y1="136.2" x2="429.2" y2="136.2" stroke="#000" stroke-width="1.7"/>
<line x1="725.5" y1="136.2" x2="722.5" y2="136.2" stroke="#000" stroke-width="1.7"/>
<line x1="426.2" y1="131.99" x2="429.2" y2="131.99" stroke="#000" stroke-width="1.7"/>
<line x1="725.5" y1="131.99" x2="722.5" y2="131.99" stroke="#000" stroke-width="1.7"/>
<line x1="426.2" y1="128.35" x2="429.2" y2="128.35" stroke="#000" stroke-width="1.7"/>
<line x1="725.5" y1="128.35" x2="722.5" y2="128.35" stroke="#000" stroke-width="1.7"/>
<line x1="426.2" y1="125.13" x2="429.2" y2="125.13" stroke="#000" stroke-width="1.7"/>
<line x1="725.5" y1="125.13" x2="722.5" y2="125.13" stroke="#000" stroke-width="1.7"/>
<line x1="426.2" y1="122.25" x2="431.8" y2="122.25" stroke="#000" stroke-width="1.7"/>
<line x1="725.5" y1="122.25" x2="719.9" y2="122.25" stroke="#000" stroke-width="1.7"/>
<line x1="426.2" y1="103.32" x2="429.2" y2="103.32" stroke="#000" stroke-width="1.7"/>
<line x1="725.5" y1="103.32" x2="722.5" y2="103.32" stroke="#000" stroke-width="1.7"/>
<line x1="426.2" y1="92.24" x2="429.2" y2="92.24" stroke="#000" stroke-width="1.7"/>
<line x1="725.5" y1="92.24" x2="722.5" y2="92.24" stroke="#000" stroke-width="1.7"/>
<line x1="426.2" y1="84.38" x2="429.2" y2="84.38" stroke="#000" stroke-width="1.7"/>
<line x1="725.5" y1="84.38" x2="722.5" y2="84.38" stroke="#000" stroke-width="1.7"/>
<line x1="426.2" y1="78.28" x2="429.2" y2="78.28" stroke="#000" stroke-width="1.7"/>
<line x1="725.5" y1="78.28" x2="722.5" y2="78.28" stroke="#000" stroke-width="1.7"/>
<line x1="426.2" y1="73.3" x2="429.2" y2="73.3" stroke="#000" stroke-width="1.7"/>
<line x1="725.5" y1="73.3" x2="722.5" y2="73.3" stroke="#000" stroke-width="1.7"/>
<line x1="426.2" y1="69.09" x2="429.2" y2="69.09" stroke="#000" stroke-width="1.7"/>
<line x1="725.5" y1="69.09" x2="722.5" y2="69.09" stroke="#000" stroke-width="1.7"/>
<line x1="426.2" y1="65.45" x2="429.2" y2="65.45" stroke="#000" stroke-width="1.7"/>
<line x1="725.5" y1="65.45" x2="722.5" y2="65.45" stroke="#000" stroke-width="1.7"/>
<line x1="426.2" y1="62.23" x2="429.2" y2="62.23" stroke="#000" stroke-width="1.7"/>
<line x1="725.5" y1="62.23" x2="722.5" y2="62.23" stroke="#000" stroke-width="1.7"/>
<line x1="426.2" y1="59.35" x2="431.8" y2="59.35" stroke="#000" stroke-width="1.7"/>
<line x1="725.5" y1="59.35" x2="719.9" y2="59.35" stroke="#000" stroke-width="1.7"/>
<line x1="426.2" y1="40.42" x2="429.2" y2="40.42" stroke="#000" stroke-width="1.7"/>
<line x1="725.5" y1="40.42" x2="722.5" y2="40.42" stroke="#000" stroke-width="1.7"/>
<path d="M45 46.7L93.8 79.2L128.42 101.5L155.27 103.3L177.21 103.7L195.77 117.4L211.84 124.2L226.01 121.4L238.69 129.8L250.16 143.5L260.63 140.5L270.26 142.4L279.18 157L287.49 160L295.25 156.8L302.55 166.2L309.43 176.5L315.94 173.8L322.11 175.8L327.98 185.9L333.58 187.9L338.93 182.2L344.05 183.8" fill="none" stroke="#ff0000" stroke-width="1.5" stroke-linejoin="round"/>
<circle cx="45" cy="46.7" r="5.4" fill="none" stroke="#ff0000" stroke-width="1.35"/>
<circle cx="93.8" cy="79.2" r="5.4" fill="none" stroke="#ff0000" stroke-width="1.35"/>
<circle cx="128.42" cy="101.5" r="5.4" fill="none" stroke="#ff0000" stroke-width="1.35"/>
<circle cx="155.27" cy="103.3" r="5.4" fill="none" stroke="#ff0000" stroke-width="1.35"/>
<circle cx="177.21" cy="103.7" r="5.4" fill="none" stroke="#ff0000" stroke-width="1.35"/>
<circle cx="195.77" cy="117.4" r="5.4" fill="none" stroke="#ff0000" stroke-width="1.35"/>
<circle cx="211.84" cy="124.2" r="5.4" fill="none" stroke="#ff0000" stroke-width="1.35"/>
<circle cx="226.01" cy="121.4" r="5.4" fill="none" stroke="#ff0000" stroke-width="1.35"/>
<circle cx="238.69" cy="129.8" r="5.4" fill="none" stroke="#ff0000" stroke-width="1.35"/>
<circle cx="250.16" cy="143.5" r="5.4" fill="none" stroke="#ff0000" stroke-width="1.35"/>
<circle cx="260.63" cy="140.5" r="5.4" fill="none" stroke="#ff0000" stroke-width="1.35"/>
<circle cx="270.26" cy="142.4" r="5.4" fill="none" stroke="#ff0000" stroke-width="1.35"/>
<circle cx="279.18" cy="157" r="5.4" fill="none" stroke="#ff0000" stroke-width="1.35"/>
<circle cx="287.49" cy="160" r="5.4" fill="none" stroke="#ff0000" stroke-width="1.35"/>
<circle cx="295.25" cy="156.8" r="5.4" fill="none" stroke="#ff0000" stroke-width="1.35"/>
<circle cx="302.55" cy="166.2" r="5.4" fill="none" stroke="#ff0000" stroke-width="1.35"/>
<circle cx="309.43" cy="176.5" r="5.4" fill="none" stroke="#ff0000" stroke-width="1.35"/>
<circle cx="315.94" cy="173.8" r="5.4" fill="none" stroke="#ff0000" stroke-width="1.35"/>
<circle cx="322.11" cy="175.8" r="5.4" fill="none" stroke="#ff0000" stroke-width="1.35"/>
<circle cx="327.98" cy="185.9" r="5.4" fill="none" stroke="#ff0000" stroke-width="1.35"/>
<circle cx="333.58" cy="187.9" r="5.4" fill="none" stroke="#ff0000" stroke-width="1.35"/>
<circle cx="338.93" cy="182.2" r="5.4" fill="none" stroke="#ff0000" stroke-width="1.35"/>
<circle cx="344.05" cy="183.8" r="5.4" fill="none" stroke="#ff0000" stroke-width="1.35"/>
<path d="M45 70.7L93.8 136L128.42 214.5L155.27 254.6L177.21 229.6L195.77 257.3L211.84 248.7L226.01 241.6L238.69 259.3L250.16 266.1L260.63 257.3L270.26 267.5L279.18 284.6L287.49 276.9L295.25 276.9L302.55 293.9L309.43 298.7L315.94 290.5L322.11 298.6L327.98 310.3L333.58 300.7L338.93 290.3L344.05 293" fill="none" stroke="#ff00ff" stroke-width="1.5" stroke-linejoin="round"/>
<path d="M45 64.65L39.5 73.4L50.5 73.4Z" fill="none" stroke="#ff00ff" stroke-width="1.35" stroke-linejoin="miter"/>
<path d="M93.8 129.95L88.3 138.7L99.3 138.7Z" fill="none" stroke="#ff00ff" stroke-width="1.35" stroke-linejoin="miter"/>
<path d="M128.42 208.45L122.92 217.2L133.92 217.2Z" fill="none" stroke="#ff00ff" stroke-width="1.35" stroke-linejoin="miter"/>
<path d="M155.27 248.55L149.77 257.3L160.77 257.3Z" fill="none" stroke="#ff00ff" stroke-width="1.35" stroke-linejoin="miter"/>
<path d="M177.21 223.55L171.71 232.3L182.71 232.3Z" fill="none" stroke="#ff00ff" stroke-width="1.35" stroke-linejoin="miter"/>
<path d="M195.77 251.25L190.27 260L201.27 260Z" fill="none" stroke="#ff00ff" stroke-width="1.35" stroke-linejoin="miter"/>
<path d="M211.84 242.65L206.34 251.4L217.34 251.4Z" fill="none" stroke="#ff00ff" stroke-width="1.35" stroke-linejoin="miter"/>
<path d="M226.01 235.55L220.51 244.3L231.51 244.3Z" fill="none" stroke="#ff00ff" stroke-width="1.35" stroke-linejoin="miter"/>
<path d="M238.69 253.25L233.19 262L244.19 262Z" fill="none" stroke="#ff00ff" stroke-width="1.35" stroke-linejoin="miter"/>
<path d="M250.16 260.05L244.66 268.8L255.66 268.8Z" fill="none" stroke="#ff00ff" stroke-width="1.35" stroke-linejoin="miter"/>
<path d="M260.63 251.25L255.13 260L266.13 260Z" fill="none" stroke="#ff00ff" stroke-width="1.35" stroke-linejoin="miter"/>
<path d="M270.26 261.45L264.76 270.2L275.76 270.2Z" fill="none" stroke="#ff00ff" stroke-width="1.35" stroke-linejoin="miter"/>
<path d="M279.18 278.55L273.68 287.3L284.68 287.3Z" fill="none" stroke="#ff00ff" stroke-width="1.35" stroke-linejoin="miter"/>
<path d="M287.49 270.85L281.99 279.6L292.99 279.6Z" fill="none" stroke="#ff00ff" stroke-width="1.35" stroke-linejoin="miter"/>
<path d="M295.25 270.85L289.75 279.6L300.75 279.6Z" fill="none" stroke="#ff00ff" stroke-width="1.35" stroke-linejoin="miter"/>
<path d="M302.55 287.85L297.05 296.6L308.05 296.6Z" fill="none" stroke="#ff00ff" stroke-width="1.35" stroke-linejoin="miter"/>
<path d="M309.43 292.65L303.93 301.4L314.93 301.4Z" fill="none" stroke="#ff00ff" stroke-width="1.35" stroke-linejoin="miter"/>
<path d="M315.94 284.45L310.44 293.2L321.44 293.2Z" fill="none" stroke="#ff00ff" stroke-width="1.35" stroke-linejoin="miter"/>
<path d="M322.11 292.55L316.61 301.3L327.61 301.3Z" fill="none" stroke="#ff00ff" stroke-width="1.35" stroke-linejoin="miter"/>
<path d="M327.98 304.25L322.48 313L333.48 313Z" fill="none" stroke="#ff00ff" stroke-width="1.35" stroke-linejoin="miter"/>
<path d="M333.58 294.65L328.08 303.4L339.08 303.4Z" fill="none" stroke="#ff00ff" stroke-width="1.35" stroke-linejoin="miter"/>
<path d="M338.93 284.25L333.43 293L344.43 293Z" fill="none" stroke="#ff00ff" stroke-width="1.35" stroke-linejoin="miter"/>
<path d="M344.05 286.95L338.55 295.7L349.55 295.7Z" fill="none" stroke="#ff00ff" stroke-width="1.35" stroke-linejoin="miter"/>
<path d="M45 163.2L93.8 168.1L128.42 186L155.27 188.4L177.21 182L195.77 204L211.84 214.7L226.01 201.7L238.69 212L250.16 235.1L260.63 223.2L270.26 222.4L279.18 244.7L287.49 247.2L295.25 237.2L302.55 248.8L309.43 265L315.94 255.8L322.11 255.4L327.98 270.8L333.58 271.9L338.93 260.6L344.05 260.9" fill="none" stroke="#0000ff" stroke-width="1.5" stroke-linejoin="round"/>
<path d="M45 169.25L39.5 160.5L50.5 160.5Z" fill="#0000ff" stroke="none"/>
<path d="M93.8 174.15L88.3 165.4L99.3 165.4Z" fill="#0000ff" stroke="none"/>
<path d="M128.42 192.05L122.92 183.3L133.92 183.3Z" fill="#0000ff" stroke="none"/>
<path d="M155.27 194.45L149.77 185.7L160.77 185.7Z" fill="#0000ff" stroke="none"/>
<path d="M177.21 188.05L171.71 179.3L182.71 179.3Z" fill="#0000ff" stroke="none"/>
<path d="M195.77 210.05L190.27 201.3L201.27 201.3Z" fill="#0000ff" stroke="none"/>
<path d="M211.84 220.75L206.34 212L217.34 212Z" fill="#0000ff" stroke="none"/>
<path d="M226.01 207.75L220.51 199L231.51 199Z" fill="#0000ff" stroke="none"/>
<path d="M238.69 218.05L233.19 209.3L244.19 209.3Z" fill="#0000ff" stroke="none"/>
<path d="M250.16 241.15L244.66 232.4L255.66 232.4Z" fill="#0000ff" stroke="none"/>
<path d="M260.63 229.25L255.13 220.5L266.13 220.5Z" fill="#0000ff" stroke="none"/>
<path d="M270.26 228.45L264.76 219.7L275.76 219.7Z" fill="#0000ff" stroke="none"/>
<path d="M279.18 250.75L273.68 242L284.68 242Z" fill="#0000ff" stroke="none"/>
<path d="M287.49 253.25L281.99 244.5L292.99 244.5Z" fill="#0000ff" stroke="none"/>
<path d="M295.25 243.25L289.75 234.5L300.75 234.5Z" fill="#0000ff" stroke="none"/>
<path d="M302.55 254.85L297.05 246.1L308.05 246.1Z" fill="#0000ff" stroke="none"/>
<path d="M309.43 271.05L303.93 262.3L314.93 262.3Z" fill="#0000ff" stroke="none"/>
<path d="M315.94 261.85L310.44 253.1L321.44 253.1Z" fill="#0000ff" stroke="none"/>
<path d="M322.11 261.45L316.61 252.7L327.61 252.7Z" fill="#0000ff" stroke="none"/>
<path d="M327.98 276.85L322.48 268.1L333.48 268.1Z" fill="#0000ff" stroke="none"/>
<path d="M333.58 277.95L328.08 269.2L339.08 269.2Z" fill="#0000ff" stroke="none"/>
<path d="M338.93 266.65L333.43 257.9L344.43 257.9Z" fill="#0000ff" stroke="none"/>
<path d="M344.05 266.95L338.55 258.2L349.55 258.2Z" fill="#0000ff" stroke="none"/>
<path d="M426.2 45.4L475.04 66.8L509.69 82.2L536.56 82.6L558.52 83.5L577.09 91.2L593.18 98.5L607.36 95.9L620.05 99.6L631.53 108.6L642.01 110.7L651.65 108.8L660.58 114.5L668.89 122.5L676.66 122L683.96 121.2L690.85 130.1L697.36 137.2L703.54 133.2L709.42 134.7L715.02 148.2L720.37 154.6L725.5 144.4" fill="none" stroke="#ff0000" stroke-width="1.5" stroke-linejoin="round"/>
<circle cx="426.2" cy="45.4" r="5.4" fill="none" stroke="#ff0000" stroke-width="1.35"/>
<circle cx="475.04" cy="66.8" r="5.4" fill="none" stroke="#ff0000" stroke-width="1.35"/>
<circle cx="509.69" cy="82.2" r="5.4" fill="none" stroke="#ff0000" stroke-width="1.35"/>
<circle cx="536.56" cy="82.6" r="5.4" fill="none" stroke="#ff0000" stroke-width="1.35"/>
<circle cx="558.52" cy="83.5" r="5.4" fill="none" stroke="#ff0000" stroke-width="1.35"/>
<circle cx="577.09" cy="91.2" r="5.4" fill="none" stroke="#ff0000" stroke-width="1.35"/>
<circle cx="593.18" cy="98.5" r="5.4" fill="none" stroke="#ff0000" stroke-width="1.35"/>
<circle cx="607.36" cy="95.9" r="5.4" fill="none" stroke="#ff0000" stroke-width="1.35"/>
<circle cx="620.05" cy="99.6" r="5.4" fill="none" stroke="#ff0000" stroke-width="1.35"/>
<circle cx="631.53" cy="108.6" r="5.4" fill="none" stroke="#ff0000" stroke-width="1.35"/>
<circle cx="642.01" cy="110.7" r="5.4" fill="none" stroke="#ff0000" stroke-width="1.35"/>
<circle cx="651.65" cy="108.8" r="5.4" fill="none" stroke="#ff0000" stroke-width="1.35"/>
<circle cx="660.58" cy="114.5" r="5.4" fill="none" stroke="#ff0000" stroke-width="1.35"/>
<circle cx="668.89" cy="122.5" r="5.4" fill="none" stroke="#ff0000" stroke-width="1.35"/>
<circle cx="676.66" cy="122" r="5.4" fill="none" stroke="#ff0000" stroke-width="1.35"/>
<circle cx="683.96" cy="121.2" r="5.4" fill="none" stroke="#ff0000" stroke-width="1.35"/>
<circle cx="690.85" cy="130.1" r="5.4" fill="none" stroke="#ff0000" stroke-width="1.35"/>
<circle cx="697.36" cy="137.2" r="5.4" fill="none" stroke="#ff0000" stroke-width="1.35"/>
<circle cx="703.54" cy="133.2" r="5.4" fill="none" stroke="#ff0000" stroke-width="1.35"/>
<circle cx="709.42" cy="134.7" r="5.4" fill="none" stroke="#ff0000" stroke-width="1.35"/>
<circle cx="715.02" cy="148.2" r="5.4" fill="none" stroke="#ff0000" stroke-width="1.35"/>
<circle cx="720.37" cy="154.6" r="5.4" fill="none" stroke="#ff0000" stroke-width="1.35"/>
<circle cx="725.5" cy="144.4" r="5.4" fill="none" stroke="#ff0000" stroke-width="1.35"/>
<path d="M426.2 85.7L475.04 132.5L509.69 191.9L536.56 174.4L558.52 170.3L577.09 190.3L593.18 197.1L607.36 188.5L620.05 197L631.53 210.6L642.01 203.4L651.65 201.6L660.58 215.4L668.89 222.3L676.66 212.3L683.96 216L690.85 234.2L697.36 230.1L703.54 221.2L709.42 231.2L715.02 258.8L720.37 240.4L725.5 224.6" fill="none" stroke="#ff00ff" stroke-width="1.5" stroke-linejoin="round"/>
<path d="M426.2 79.65L420.7 88.4L431.7 88.4Z" fill="none" stroke="#ff00ff" stroke-width="1.35" stroke-linejoin="miter"/>
<path d="M475.04 126.45L469.54 135.2L480.54 135.2Z" fill="none" stroke="#ff00ff" stroke-width="1.35" stroke-linejoin="miter"/>
<path d="M509.69 185.85L504.19 194.6L515.19 194.6Z" fill="none" stroke="#ff00ff" stroke-width="1.35" stroke-linejoin="miter"/>
<path d="M536.56 168.35L531.06 177.1L542.06 177.1Z" fill="none" stroke="#ff00ff" stroke-width="1.35" stroke-linejoin="miter"/>
<path d="M558.52 164.25L553.02 173L564.02 173Z" fill="none" stroke="#ff00ff" stroke-width="1.35" stroke-linejoin="miter"/>
<path d="M577.09 184.25L571.59 193L582.59 193Z" fill="none" stroke="#ff00ff" stroke-width="1.35" stroke-linejoin="miter"/>
<path d="M593.18 191.05L587.68 199.8L598.68 199.8Z" fill="none" stroke="#ff00ff" stroke-width="1.35" stroke-linejoin="miter"/>
<path d="M607.36 182.45L601.86 191.2L612.86 191.2Z" fill="none" stroke="#ff00ff" stroke-width="1.35" stroke-linejoin="miter"/>
<path d="M620.05 190.95L614.55 199.7L625.55 199.7Z" fill="none" stroke="#ff00ff" stroke-width="1.35" stroke-linejoin="miter"/>
<path d="M631.53 204.55L626.03 213.3L637.03 213.3Z" fill="none" stroke="#ff00ff" stroke-width="1.35" stroke-linejoin="miter"/>
<path d="M642.01 197.35L636.51 206.1L647.51 206.1Z" fill="none" stroke="#ff00ff" stroke-width="1.35" stroke-linejoin="miter"/>
<path d="M651.65 195.55L646.15 204.3L657.15 204.3Z" fill="none" stroke="#ff00ff" stroke-width="1.35" stroke-linejoin="miter"/>
<path d="M660.58 209.35L655.08 218.1L666.08 218.1Z" fill="none" stroke="#ff00ff" stroke-width="1.35" stroke-linejoin="miter"/>
<path d="M668.89 216.25L663.39 225L674.39 225Z" fill="none" stroke="#ff00ff" stroke-width="1.35" stroke-linejoin="miter"/>
<path d="M676.66 206.25L671.16 215L682.16 215Z" fill="none" stroke="#ff00ff" stroke-width="1.35" stroke-linejoin="miter"/>
<path d="M683.96 209.95L678.46 218.7L689.46 218.7Z" fill="none" stroke="#ff00ff" stroke-width="1.35" stroke-linejoin="miter"/>
<path d="M690.85 228.15L685.35 236.9L696.35 236.9Z" fill="none" stroke="#ff00ff" stroke-width="1.35" stroke-linejoin="miter"/>
<path d="M697.36 224.05L691.86 232.8L702.86 232.8Z" fill="none" stroke="#ff00ff" stroke-width="1.35" stroke-linejoin="miter"/>
<path d="M703.54 215.15L698.04 223.9L709.04 223.9Z" fill="none" stroke="#ff00ff" stroke-width="1.35" stroke-linejoin="miter"/>
<path d="M709.42 225.15L703.92 233.9L714.92 233.9Z" fill="none" stroke="#ff00ff" stroke-width="1.35" stroke-linejoin="miter"/>
<path d="M715.02 252.75L709.52 261.5L720.52 261.5Z" fill="none" stroke="#ff00ff" stroke-width="1.35" stroke-linejoin="miter"/>
<path d="M720.37 234.35L714.87 243.1L725.87 243.1Z" fill="none" stroke="#ff00ff" stroke-width="1.35" stroke-linejoin="miter"/>
<path d="M725.5 218.55L720 227.3L731 227.3Z" fill="none" stroke="#ff00ff" stroke-width="1.35" stroke-linejoin="miter"/>
<path d="M426.2 284.1L475.04 210.1L509.69 214.8L536.56 249L558.52 218.4L577.09 240L593.18 254.5L607.36 236.3L620.05 238.4L631.53 262L642.01 260.5L651.65 246.1L660.58 255.6L668.89 279.7L676.66 265.8L683.96 257.7L690.85 274.7L697.36 295.1L703.54 272.8L709.42 268.9L715.02 294.9L720.37 322.3L725.5 281.7" fill="none" stroke="#0000ff" stroke-width="1.5" stroke-linejoin="round"/>
<path d="M426.2 290.15L420.7 281.4L431.7 281.4Z" fill="#0000ff" stroke="none"/>
<path d="M475.04 216.15L469.54 207.4L480.54 207.4Z" fill="#0000ff" stroke="none"/>
<path d="M509.69 220.85L504.19 212.1L515.19 212.1Z" fill="#0000ff" stroke="none"/>
<path d="M536.56 255.05L531.06 246.3L542.06 246.3Z" fill="#0000ff" stroke="none"/>
<path d="M558.52 224.45L553.02 215.7L564.02 215.7Z" fill="#0000ff" stroke="none"/>
<path d="M577.09 246.05L571.59 237.3L582.59 237.3Z" fill="#0000ff" stroke="none"/>
<path d="M593.18 260.55L587.68 251.8L598.68 251.8Z" fill="#0000ff" stroke="none"/>
<path d="M607.36 242.35L601.86 233.6L612.86 233.6Z" fill="#0000ff" stroke="none"/>
<path d="M620.05 244.45L614.55 235.7L625.55 235.7Z" fill="#0000ff" stroke="none"/>
<path d="M631.53 268.05L626.03 259.3L637.03 259.3Z" fill="#0000ff" stroke="none"/>
<path d="M642.01 266.55L636.51 257.8L647.51 257.8Z" fill="#0000ff" stroke="none"/>
<path d="M651.65 252.15L646.15 243.4L657.15 243.4Z" fill="#0000ff" stroke="none"/>
<path d="M660.58 261.65L655.08 252.9L666.08 252.9Z" fill="#0000ff" stroke="none"/>
<path d="M668.89 285.75L663.39 277L674.39 277Z" fill="#0000ff" stroke="none"/>
<path d="M676.66 271.85L671.16 263.1L682.16 263.1Z" fill="#0000ff" stroke="none"/>
<path d="M683.96 263.75L678.46 255L689.46 255Z" fill="#0000ff" stroke="none"/>
<path d="M690.85 280.75L685.35 272L696.35 272Z" fill="#0000ff" stroke="none"/>
<path d="M697.36 301.15L691.86 292.4L702.86 292.4Z" fill="#0000ff" stroke="none"/>
<path d="M703.54 278.85L698.04 270.1L709.04 270.1Z" fill="#0000ff" stroke="none"/>
<path d="M709.42 274.95L703.92 266.2L714.92 266.2Z" fill="#0000ff" stroke="none"/>
<path d="M715.02 300.95L709.52 292.2L720.52 292.2Z" fill="#0000ff" stroke="none"/>
<path d="M720.37 328.35L714.87 319.6L725.87 319.6Z" fill="#0000ff" stroke="none"/>
<path d="M725.5 287.75L720 279L731 279Z" fill="#0000ff" stroke="none"/>
<rect x="45" y="36.6" width="299.05" height="299.4" fill="none" stroke="#000" stroke-width="2"/>
<rect x="426.2" y="36.6" width="299.3" height="299.4" fill="none" stroke="#000" stroke-width="2"/>
</svg>
</body></html>
